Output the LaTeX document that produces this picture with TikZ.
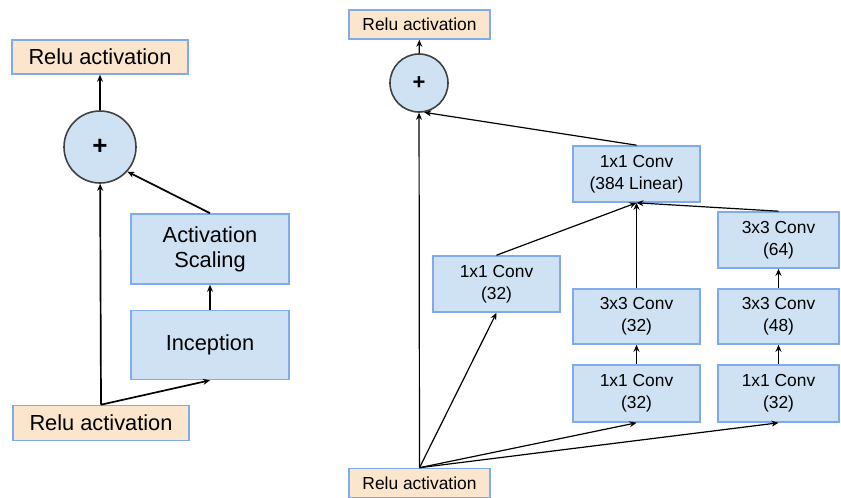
\documentclass[tikz,border=0pt]{standalone}
\usepackage{fontspec}
\setmainfont{Liberation Sans}
\usetikzlibrary{arrows.meta}
\usetikzlibrary{calc,positioning}

\definecolor{boxblue}{HTML}{CFE2F3}
\definecolor{edgeblue}{HTML}{7FAAEC}
\definecolor{reluorange}{HTML}{FCE5CD}

\begin{document}
\begin{tikzpicture}[>={Stealth[length=3.5pt,width=3pt]}, x=0.5pt, y=-0.5pt,
    block/.style={draw=edgeblue, line width=0.8pt, fill=boxblue, inner sep=0pt, align=center},
    relu/.style={block, fill=reluorange},
    plus/.style={circle, draw=black!75, line width=0.8pt, fill=boxblue, inner sep=0pt},
    big/.style={font=\fontsize{10.9}{12.5}\selectfont},
    small/.style={font=\fontsize{8.7}{11}\selectfont},
    link/.style={->, line width=0.6pt},
    thicklink/.style={link, line width=0.85pt}]

    \useasboundingbox (0,0) rectangle (841,498);

    % left: residual block
    \node[relu, big, minimum width=88pt, minimum height=17pt] (reluTopL) at (100,57) {Relu activation};
    \node[plus, minimum size=36pt] (plusL) at (100,147) {\fontsize{13}{13}\selectfont\bfseries +};
    \node[block, big, minimum width=79pt, minimum height=35pt] (scale) at (210,249) {Activation\\Scaling};
    \node[block, big, minimum width=79pt, minimum height=34.5pt] (incep) at (210,345) {Inception};
    \node[relu, big, minimum width=88pt, minimum height=17.5pt] (reluBotL) at (101,423) {Relu activation};

    \draw[thicklink] (plusL) -- (reluTopL);
    \draw[thicklink] (reluBotL.north) -- (plusL);
    \draw[thicklink] (reluBotL.north) -- (incep.south);
    \draw[thicklink] (incep) -- (scale);
    \draw[thicklink] (scale.north) -- (plusL.-42);

    % right: inception-resnet-A
    \node[relu, small, minimum width=70.5pt, minimum height=14.5pt] (reluTopR) at (419.5,24.5) {Relu activation};
    \node[plus, minimum size=29pt] (plusR) at (419,83) {\fontsize{11}{11}\selectfont\bfseries +};
    \node[block, small, minimum width=63.5pt, minimum height=28pt] (lin) at (636.5,174) {1x1 Conv\\(384 Linear)};

    \node[block, small, minimum width=63.5pt, minimum height=28pt] (convA) at (496.5,284) {1x1 Conv\\(32)};

    \node[block, small, minimum width=63.5pt, minimum height=27.5pt] (convBb) at (636.5,316.5) {3x3 Conv\\(32)};
    \node[block, small, minimum width=63.5pt, minimum height=28.5pt] (convBa) at (636.5,393.5) {1x1 Conv\\(32)};

    \node[block, small, minimum width=60.5pt, minimum height=28pt] (convCc) at (778.5,240) {3x3 Conv\\(64)};
    \node[block, small, minimum width=60.5pt, minimum height=27.5pt] (convCb) at (778.5,316.5) {3x3 Conv\\(48)};
    \node[block, small, minimum width=60.5pt, minimum height=28.5pt] (convCa) at (778.5,393.5) {1x1 Conv\\(32)};

    \node[relu, small, minimum width=70.5pt, minimum height=14.5pt] (reluBotR) at (419.5,483) {Relu activation};

    \draw[link] (plusR) -- (reluTopR);
    \draw[link] (reluBotR.north) -- (plusR);
    \draw[link] (reluBotR.north) -- (convA.south);
    \draw[link] (reluBotR.north) -- (convBa.south);
    \draw[link] (reluBotR.north) -- (convCa.south);

    \draw[link] (convBa) -- (convBb);
    \draw[link] (convCa) -- (convCb);
    \draw[link] (convCb) -- (convCc);

    \draw[link] (convA.north) -- (lin.south);
    \draw[link] (convBb.north) -- (lin.south);
    \draw[link] (convCc.north) -- (lin.south);
    \draw[link] (lin.north) -- (plusR.-80);

\end{tikzpicture}
\end{document}
